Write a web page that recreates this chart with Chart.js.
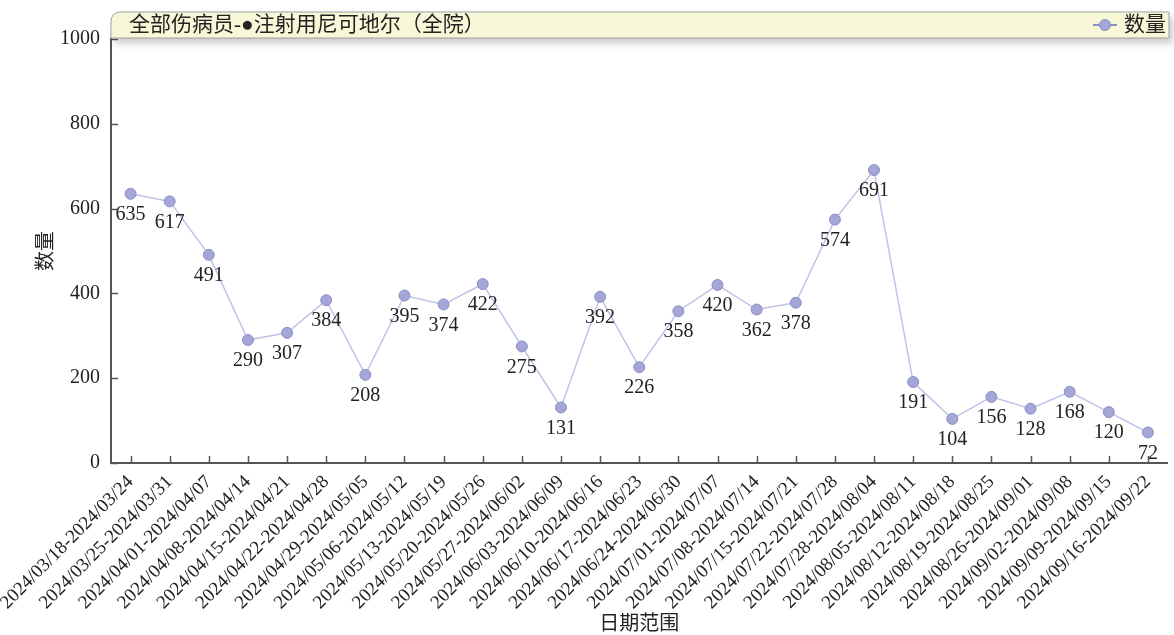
<!DOCTYPE html>
<html>
<head>
<meta charset="utf-8">
<script src="https://cdn.jsdelivr.net/npm/chart.js@4"></script>
<style>
  body { margin: 0; background: #fff; }
</style>
</head>
<body>
<canvas id="chartQty" width="1174" height="635"></canvas>
<script>
const weeks = [
  '2024/03/18-2024/03/24', '2024/03/25-2024/03/31', '2024/04/01-2024/04/07',
  '2024/04/08-2024/04/14', '2024/04/15-2024/04/21', '2024/04/22-2024/04/28',
  '2024/04/29-2024/05/05', '2024/05/06-2024/05/12', '2024/05/13-2024/05/19',
  '2024/05/20-2024/05/26', '2024/05/27-2024/06/02', '2024/06/03-2024/06/09',
  '2024/06/10-2024/06/16', '2024/06/17-2024/06/23', '2024/06/24-2024/06/30',
  '2024/07/01-2024/07/07', '2024/07/08-2024/07/14', '2024/07/15-2024/07/21',
  '2024/07/22-2024/07/28', '2024/07/28-2024/08/04', '2024/08/05-2024/08/11',
  '2024/08/12-2024/08/18', '2024/08/19-2024/08/25', '2024/08/26-2024/09/01',
  '2024/09/02-2024/09/08', '2024/09/09-2024/09/15', '2024/09/16-2024/09/22'
];
const qty = [635, 617, 491, 290, 307, 384, 208, 395, 374, 422, 275, 131, 392, 226,
  358, 420, 362, 378, 574, 691, 191, 104, 156, 128, 168, 120, 72];
const yTicks = [0, 200, 400, 600, 800, 1000];

const titleText = '全部伤病员-●注射用尼可地尔（全院）';
const seriesName = '数量';
const FONT = '"Liberation Serif", "Noto Sans CJK SC", serif';

// labels under each point
const valueLabels = {
  id: 'valueLabels',
  afterDatasetsDraw(chart) {
    const c = chart.ctx;
    const meta = chart.getDatasetMeta(0);
    c.save();
    c.font = '20px ' + FONT;
    c.fillStyle = '#222';
    c.textAlign = 'center';
    c.textBaseline = 'middle';
    meta.data.forEach((pt, i) => {
      c.fillText(String(qty[i]), pt.x, pt.y + 21);
    });
    c.restore();
  }
};

// short tick marks pointing into the plot
const innerTicks = {
  id: 'innerTicks',
  afterDraw(chart) {
    const c = chart.ctx;
    const xs = chart.scales.x, ys = chart.scales.y;
    const area = chart.chartArea;
    c.save();
    c.strokeStyle = '#555';
    c.lineWidth = 1.5;
    c.beginPath();
    weeks.forEach((w, i) => {
      const px = Math.round(xs.getPixelForValue(i)) + 0.5;
      c.moveTo(px, area.bottom);
      c.lineTo(px, area.bottom - 7);
    });
    yTicks.forEach(v => {
      const py = Math.round(ys.getPixelForValue(v)) + 0.5;
      c.moveTo(area.left, py);
      c.lineTo(area.left + 7, py);
    });
    c.stroke();
    c.restore();
  }
};

// yellow header box with title + legend
const headerBox = {
  id: 'headerBox',
  afterDraw(chart) {
    const c = chart.ctx;
    const x0 = 111, y0 = 12, x1 = 1169, y1 = 38, r = 10;
    c.save();
    c.beginPath();
    c.moveTo(x0, y1);
    c.lineTo(x0, y0 + r);
    c.quadraticCurveTo(x0, y0, x0 + r, y0);
    c.lineTo(x1, y0);
    c.lineTo(x1, y1);
    c.closePath();
    c.shadowColor = 'rgba(0,0,0,0.22)';
    c.shadowBlur = 8;
    c.shadowOffsetX = 4;
    c.shadowOffsetY = 5;
    c.fillStyle = '#f8f8d8';
    c.fill();
    c.shadowColor = 'transparent';
    c.strokeStyle = '#a0a0a0';
    c.lineWidth = 1;
    c.stroke();

    c.fillStyle = '#222';
    c.font = '21px ' + FONT;
    c.textBaseline = 'middle';
    c.textAlign = 'left';
    c.fillText(titleText, 129, 25);

    // legend
    c.strokeStyle = '#8a8fc6';
    c.lineWidth = 2;
    c.beginPath();
    c.moveTo(1093, 25);
    c.lineTo(1117, 25);
    c.stroke();
    c.beginPath();
    c.arc(1105, 25, 5.5, 0, Math.PI * 2);
    c.fillStyle = '#a3a6d6';
    c.fill();
    c.lineWidth = 1;
    c.stroke();
    c.fillStyle = '#222';
    c.fillText(seriesName, 1124, 25);
    c.restore();
  }
};

const ctx = document.getElementById('chartQty');

new Chart(ctx, {
  type: 'line',
  data: {
    labels: weeks,
    datasets: [{
      label: seriesName,
      data: qty,
      borderColor: '#c0c2e8',
      borderWidth: 1.5,
      pointRadius: 5.5,
      pointBackgroundColor: '#a3a6d6',
      pointBorderColor: '#8a8fc6',
      pointBorderWidth: 1,
      tension: 0
    }]
  },
  options: {
    responsive: false,
    animation: false,
    layout: { padding: { top: 39, right: 6, left: 0, bottom: 0 } },
    plugins: {
      legend: { display: false },
      title: { display: false },
      tooltip: { enabled: false }
    },
    scales: {
      x: {
        offset: true,
        grid: { display: false, drawTicks: false },
        border: { color: '#555', width: 2 },
        ticks: {
          autoSkip: false,
          maxRotation: 45,
          minRotation: 45,
          padding: 8,
          color: '#222',
          font: { family: FONT, size: 19 }
        },
        title: {
          display: true,
          text: '日期范围',
          color: '#222',
          font: { family: FONT, size: 20, lineHeight: 1 },
          padding: { top: 0, bottom: 0 }
        },
        afterFit(scale) {
          scale.height = 172;
          scale.paddingLeft = 0;
          scale.paddingRight = 0;
        }
      },
      y: {
        min: 0,
        max: 1000,
        afterBuildTicks(scale) { scale.ticks = yTicks.map(v => ({ value: v })); },
        grid: { display: false, drawTicks: false },
        border: { color: '#555', width: 2 },
        ticks: {
          padding: 11,
          color: '#222',
          font: { family: FONT, size: 20 },
          callback: v => String(v)
        },
        title: {
          display: true,
          text: '数量',
          color: '#222',
          font: { family: FONT, size: 20, lineHeight: 1 },
          padding: { top: 37, bottom: 0 }
        },
        afterFit(scale) {
          scale.width = 111;
          scale.paddingTop = 0;
          scale.paddingBottom = 0;
        }
      }
    }
  },
  plugins: [valueLabels, innerTicks, headerBox]
});
</script>
</body>
</html>
